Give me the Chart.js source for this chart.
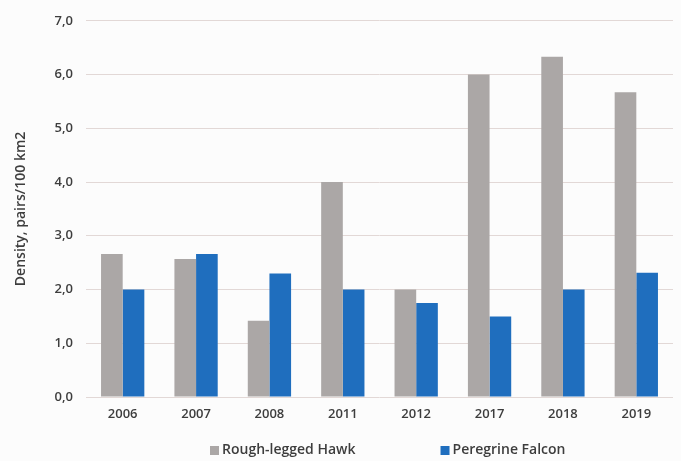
<!DOCTYPE html>
<html>
<head>
<meta charset="utf-8">
<script src="https://cdn.jsdelivr.net/npm/chart.js@4.4.1/dist/chart.umd.min.js"></script>
<style>
    html, body { margin: 0; padding: 0; background: #fcfcfc; }
</style>
</head>
<body>
<canvas id="myChart" width="681" height="461"></canvas>
<script>
const years = ['2006', '2007', '2008', '2011', '2012', '2017', '2018', '2019'];
const hawk = [2.66, 2.57, 1.42, 4.0, 2.0, 6.0, 6.33, 5.67];
const falcon = [2.0, 2.66, 2.3, 2.0, 1.75, 1.5, 2.0, 2.31];
const yMin = 0;
const yMax = 7;
const yStep = 1;

const FONT = '"Open Sans", sans-serif';
const TEXT = '#3d3d3d';

// legend drawn by hand, Excel style with a wide gap between items
const bottomLegend = {
    id: 'bottomLegend',
    afterDraw(chart) {
        const ctx = chart.ctx;
        ctx.save();
        ctx.font = '600 14px ' + FONT;
        ctx.textBaseline = 'middle';
        let x = 210;
        const y = 450;
        chart.data.datasets.forEach(ds => {
            ctx.fillStyle = ds.backgroundColor;
            ctx.fillRect(x, y - 4, 9, 9);
            ctx.fillStyle = TEXT;
            ctx.fillText(ds.label, x + 12, y);
            x += 12 + ctx.measureText(ds.label).width + 85;
        });
        ctx.restore();
    }
};

const data = {
    labels: years,
    datasets: [{
        label: 'Rough-legged Hawk',
        data: hawk,
        backgroundColor: '#aba7a6',
        categoryPercentage: 0.59,
        barPercentage: 1.0
    }, {
        label: 'Peregrine Falcon',
        data: falcon,
        backgroundColor: '#1f6ebe',
        categoryPercentage: 0.59,
        barPercentage: 1.0
    }]
};

const config = {
    type: 'bar',
    data: data,
    plugins: [bottomLegend],
    options: {
        responsive: false,
        animation: false,
        layout: { padding: { left: 8, right: 8, top: 17, bottom: 0 } },
        plugins: {
            legend: { display: false },
            tooltip: { enabled: false }
        },
        scales: {
            x: {
                grid: { display: false, drawTicks: false },
                border: { display: false },
                ticks: { color: TEXT, font: { family: FONT, size: 13, weight: '600' }, padding: 9 },
                afterFit: s => { s.height = 64; }
            },
            y: {
                min: yMin,
                max: yMax,
                grid: { color: '#e2d8d6', lineWidth: 1, drawTicks: false },
                border: { display: false },
                ticks: {
                    stepSize: yStep,
                    color: TEXT,
                    font: { family: FONT, size: 13, weight: '600' },
                    padding: 13,
                    callback: v => v.toFixed(1).replace('.', ',')
                },
                title: {
                    display: true,
                    text: 'Density, pairs/100 km2',
                    color: TEXT,
                    font: { family: FONT, size: 14, weight: '600' },
                    padding: 5
                },
                afterFit: s => { s.width = 78; }
            }
        }
    }
};

const myChart = new Chart(document.getElementById('myChart'), config);
</script>
</body>
</html>
